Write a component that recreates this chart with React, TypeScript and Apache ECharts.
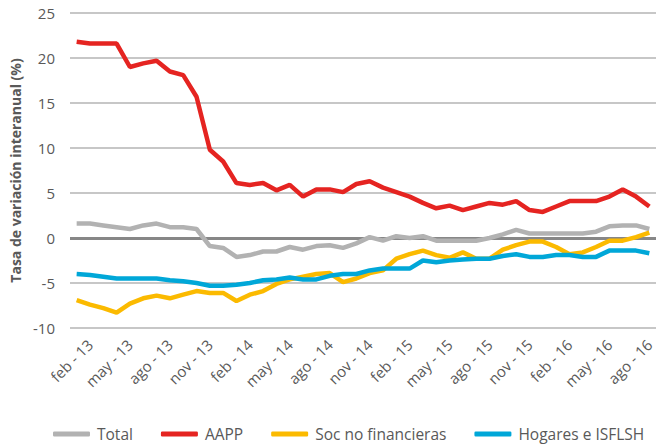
import React, { useEffect, useRef } from "react";
import * as echarts from "echarts";

const months = ["ene", "feb", "mar", "abr", "may", "jun", "jul", "ago", "sep", "oct", "nov", "dic"];
const categories: string[] = [];
for (let y = 13; y <= 16; y++) {
  for (let m = 0; m < 12; m++) {
    if (y === 16 && m > 7) break;
    categories.push(`${months[m]} - ${y}`);
  }
}

const total = [
  1.6, 1.6, 1.4, 1.2, 1.0, 1.4, 1.6, 1.2, 1.2, 1.0, -0.9, -1.1, -2.1, -1.9, -1.5, -1.5, -1.0, -1.3, -0.9, -0.8,
  -1.1, -0.6, 0.1, -0.3, 0.2, 0.0, 0.2, -0.3, -0.3, -0.3, -0.3, 0.0, 0.4, 0.9, 0.5, 0.5, 0.5, 0.5, 0.5, 0.7,
  1.3, 1.4, 1.4, 1.0,
];
const aapp = [
  21.8, 21.6, 21.6, 21.6, 19.0, 19.4, 19.7, 18.5, 18.1, 15.7, 9.8, 8.5, 6.1, 5.9, 6.1, 5.3, 5.9, 4.6, 5.4, 5.4,
  5.1, 6.0, 6.3, 5.6, 5.1, 4.6, 3.9, 3.3, 3.6, 3.1, 3.5, 3.9, 3.7, 4.1, 3.1, 2.9, 3.5, 4.1, 4.1, 4.1,
  4.6, 5.4, 4.6, 3.5,
];
const socNoFin = [
  -6.9, -7.4, -7.8, -8.3, -7.3, -6.7, -6.4, -6.7, -6.3, -5.9, -6.1, -6.1, -7.0, -6.3, -5.9, -5.1, -4.6, -4.3, -4.0, -3.9,
  -4.9, -4.5, -3.9, -3.6, -2.3, -1.8, -1.4, -1.9, -2.2, -1.6, -2.3, -2.3, -1.3, -0.8, -0.4, -0.4, -1.0, -1.8, -1.6, -1.0,
  -0.3, -0.3, 0.1, 0.6,
];
const hogares = [
  -4.0, -4.1, -4.3, -4.5, -4.5, -4.5, -4.5, -4.7, -4.8, -5.0, -5.3, -5.3, -5.2, -5.0, -4.7, -4.6, -4.4, -4.6, -4.6, -4.2,
  -4.0, -4.0, -3.6, -3.4, -3.4, -3.4, -2.5, -2.7, -2.5, -2.4, -2.3, -2.3, -2.0, -1.8, -2.1, -2.1, -1.9, -1.9, -2.1, -2.1,
  -1.4, -1.4, -1.4, -1.7,
];

const seriesNames = ["Total", "AAPP", "Soc no financieras", "Hogares e ISFLSH"];
const seriesColors = ["#b2b2b2", "#e52421", "#fbba00", "#00a7d8"];
const seriesData = [total, aapp, socNoFin, hogares];

const yTitle = "Tasa de variación interanual (%)";
const FONT = "'Open Sans', sans-serif";

export default function App() {
  const ref = useRef<HTMLDivElement>(null);
  useEffect(() => {
    if (!ref.current) return;
    const chart = echarts.init(ref.current, null, { renderer: "svg" });
    chart.setOption({
      animation: false,
      backgroundColor: "#ffffff",
      textStyle: { fontFamily: FONT },
      grid: { left: 70, right: 4, top: 13, bottom: 119, containLabel: false },
      legend: {
        data: seriesNames.map((n) => ({ name: n, icon: "roundRect" })),
        left: 53,
        top: 426,
        padding: 0,
        itemWidth: 37,
        itemHeight: 5,
        itemGap: 28,
        textStyle: { fontFamily: FONT, fontSize: 15.5, color: "#595959", padding: [0, 0, 0, 2] },
      },
      xAxis: {
        type: "category",
        data: categories,
        boundaryGap: true,
        axisLine: { show: false },
        axisTick: { show: false },
        axisLabel: {
          interval: (i: number) => i % 3 === 1,
          rotate: 45,
          margin: 14,
          fontFamily: FONT,
          fontSize: 15,
          color: "#595959",
        },
        splitLine: { show: false },
      },
      yAxis: {
        type: "value",
        min: -10,
        max: 25,
        interval: 5,
        name: yTitle,
        nameLocation: "middle",
        nameGap: 48,
        nameTextStyle: { fontFamily: FONT, fontSize: 14, fontWeight: "bold", color: "#595959" },
        axisLine: { show: false },
        axisTick: { show: false },
        axisLabel: { fontFamily: FONT, fontSize: 15, color: "#595959", margin: 15 },
        splitLine: { lineStyle: { color: "#b5b5b5", width: 1.5 } },
      },
      series: seriesNames.map((n, i) => ({
        name: n,
        type: "line",
        data: seriesData[i],
        symbol: "none",
        lineStyle: { color: seriesColors[i], width: 4.5 },
        itemStyle: { color: seriesColors[i] },
        z: 2 + i,
        markLine:
          i === 0
            ? {
                silent: true,
                symbol: "none",
                label: { show: false },
                lineStyle: { color: "#878787", width: 3, type: "solid" },
                data: [{ yAxis: 0 }],
                z: 1,
              }
            : undefined,
      })),
    });
    return () => chart.dispose();
  }, []);
  return <div ref={ref} style={{ width: 660, height: 447, position: "absolute", left: 0, top: 0 }} />;
}
